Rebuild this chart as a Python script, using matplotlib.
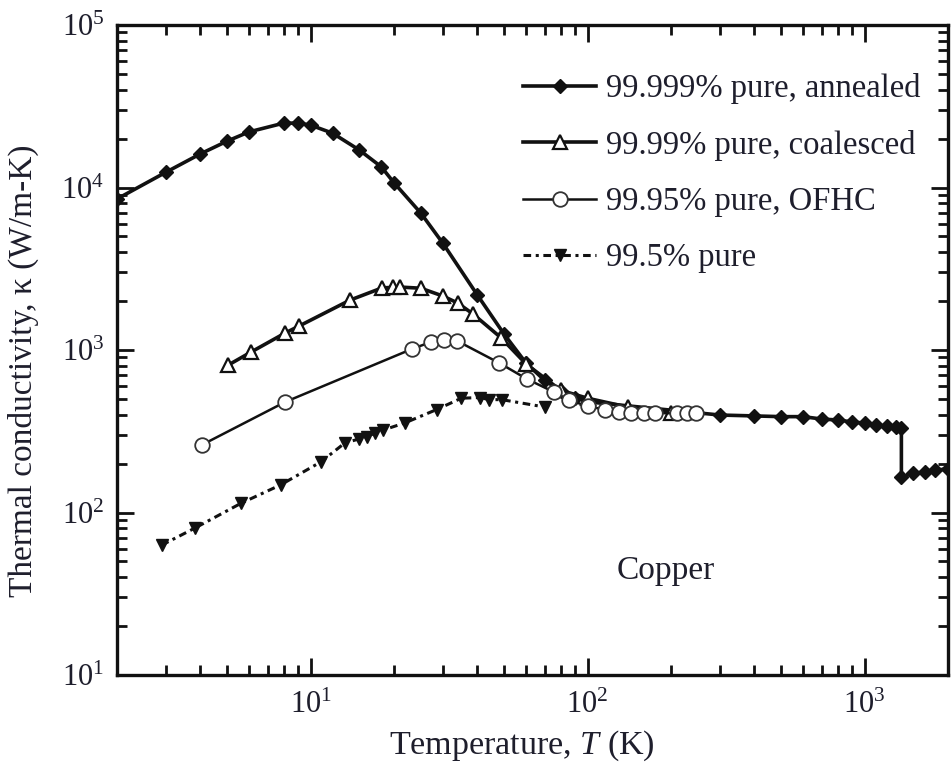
import math
import matplotlib
matplotlib.use("Agg")
import matplotlib.pyplot as plt
from matplotlib.ticker import LogLocator, FuncFormatter, NullFormatter

plt.rcParams['font.family'] = ['Liberation Serif', 'DejaVu Serif']
plt.rcParams['mathtext.fontset'] = 'custom'
plt.rcParams['mathtext.rm'] = 'Liberation Serif'
plt.rcParams['mathtext.it'] = 'Liberation Serif:italic'
plt.rcParams['mathtext.default'] = 'regular'

TXT = '#1e1e2c'

# 99.999% pure, annealed
t_annealed = [2.0, 3.0, 4.0, 5.0, 6.0, 8.0, 9.0, 10, 12, 15, 18, 20, 25, 30, 40, 50,
              60, 70, 80, 90, 100, 300, 400, 500, 600, 700, 800, 900, 1000, 1100,
              1200, 1300, 1358, 1358, 1500, 1650, 1800, 2000]
k_annealed = [8500, 12400, 16100, 19300, 22000, 24900, 24900, 24200, 21600, 17000,
              13400, 10700, 6960, 4550, 2180, 1250, 830, 650, 560, 510, 480, 398,
              393, 389, 389, 376, 371, 361, 355, 345, 340, 336, 332, 165, 175, 177,
              182, 186]

# 99.99% pure, coalesced
t_coalesced = [5.05, 6.1, 8.1, 9.1, 13.9, 18.1, 19.8, 21, 25, 30, 34, 38.5, 48.7,
               60, 80, 100, 140, 200]
k_coalesced = [809, 972, 1273, 1406, 2030, 2410, 2430, 2440, 2400, 2150, 1945, 1670,
               1190, 820, 565, 505, 445, 412]

# 99.95% pure, OFHC
t_ofhc = [4.04, 8.1, 23.2, 27.2, 30.2, 33.9, 48, 60.4, 75.5, 85.5, 100, 116, 130,
          144, 160, 175, 210, 228, 246]
k_ofhc = [260, 479, 1014, 1120, 1153, 1135, 832, 663, 552, 492, 452, 428, 415, 412,
          410, 409, 408, 408, 408]

# 99.5% pure
t_995 = [2.9, 3.81, 5.61, 7.8, 10.9, 13.3, 14.9, 16, 17.1, 18.3, 21.9, 28.5, 35,
         41, 44, 49, 70]
k_995 = [63, 80, 114, 148, 205, 268, 283, 292, 309, 322, 356, 430, 505, 510, 495,
         495, 446]

labels = ['99.999% pure, annealed', '99.99% pure, coalesced',
          '99.95% pure, OFHC', '99.5% pure']

fig = plt.figure(figsize=(9.51, 7.69), dpi=100)
ax = fig.add_axes([0.123, 0.1222, 0.8738, 0.8453])

ax.plot(t_annealed, k_annealed, '-', color='#111111', lw=2.6, marker='D', ms=7,
        mfc='#111111', mec='#111111', label=labels[0])
ax.plot(t_coalesced, k_coalesced, '-', color='#111111', lw=2.6, marker='^', ms=10,
        mfc='white', mec='#111111', mew=1.6, label=labels[1])
ax.plot(t_ofhc, k_ofhc, '-', color='#111111', lw=1.8, marker='o', ms=10.5,
        mfc='white', mec='#333333', mew=1.3, label=labels[2])
ax.plot(t_995, k_995, color='#111111', lw=2.2, ls=(0, (2.5, 1.5, 1, 1.5)), marker='v',
        ms=9, mfc='#111111', mec='#111111', label=labels[3])

ax.set_xscale('log')
ax.set_yscale('log')
ax.set_xlim(2, 2000)
ax.set_ylim(10, 1e5)

fmt = FuncFormatter(lambda v, p: r'$\mathregular{10^{%d}}$' % round(math.log10(v)))
for axis in (ax.xaxis, ax.yaxis):
    axis.set_major_locator(LogLocator(base=10, numticks=10))
    axis.set_minor_locator(LogLocator(base=10, subs=range(2, 10), numticks=20))
    axis.set_major_formatter(fmt)
    axis.set_minor_formatter(NullFormatter())

ax.tick_params(which='both', direction='in', top=True, right=True, colors='#111111',
               labelcolor=TXT, labelsize=22)
ax.tick_params(which='major', length=12, width=2)
ax.tick_params(which='minor', length=7, width=2)
ax.tick_params(axis='x', which='major', pad=11)
ax.tick_params(axis='y', which='major', pad=9)
for s in ax.spines.values():
    s.set_linewidth(2.4)
    s.set_color('#111111')

ax.set_xlabel('Temperature, $\\mathit{T}$ (K)', fontsize=24.5, color=TXT)
ax.set_ylabel('Thermal conductivity, κ (W/m-K)', fontsize=24, color=TXT)
ax.xaxis.set_label_coords(0.487, -0.083)
ax.yaxis.set_label_coords(-0.094, 0.468)

ax.text(0.66, 0.16, 'Copper', transform=ax.transAxes, fontsize=24, color=TXT,
        ha='center', va='center')

leg = ax.legend(loc='upper left', bbox_to_anchor=(0.4886, 0.926), frameon=False,
                fontsize=23.5, handlelength=2.25, handletextpad=0.3, labelspacing=0.79,
                borderpad=0, borderaxespad=0, numpoints=1)
for t in leg.get_texts():
    t.set_color(TXT)

fig.savefig('out.png', dpi=100)
